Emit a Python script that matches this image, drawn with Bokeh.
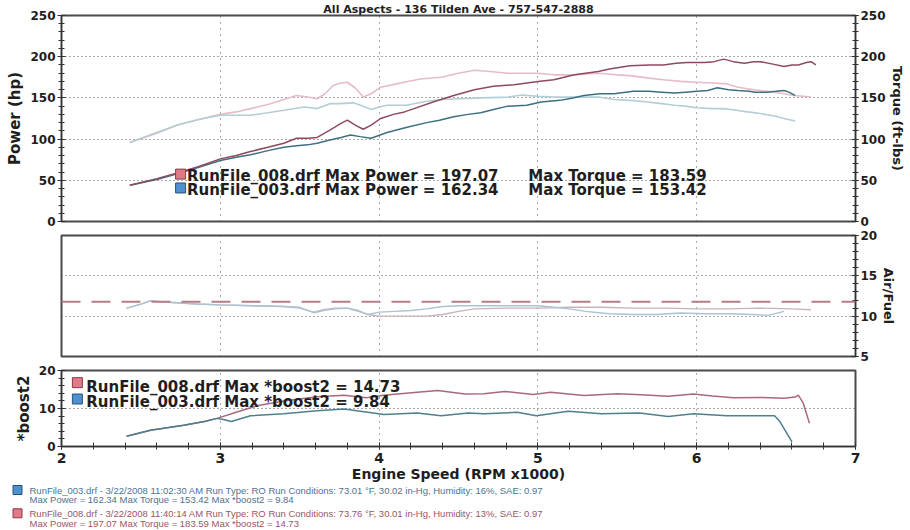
from bokeh.plotting import figure
from bokeh.models import Range1d, LinearAxis, SingleIntervalTicker, FixedTicker, Span, Title
from bokeh.layouts import column, row
from bokeh.embed import file_html
from bokeh.resources import INLINE
from bokeh.core.properties import value

# ---------------- data ----------------
title_text = "All Aspects - 136 Tilden Ave - 757-547-2888"
runs = ["RunFile_008.drf", "RunFile_003.drf"]
max_power = [197.07, 162.34]
max_torque = [183.59, 153.42]
max_boost = [14.73, 9.84]
run_dates = ["3/22/2008 11:40:14 AM", "3/22/2008 11:02:30 AM"]
run_temp = ["73.76", "73.01"]
run_baro = ["30.01", "30.02"]
run_hum = ["13%", "16%"]
run_sae = ["0.97", "0.97"]
af_target = 11.8

rpm_008 = [2.43, 2.60, 2.73, 2.87, 3.00, 3.10, 3.19, 3.30, 3.40, 3.48, 3.55, 3.61, 3.69, 3.76, 3.80, 3.85,
           3.90, 3.95, 4.01, 4.09, 4.16, 4.22, 4.34, 4.47, 4.60, 4.72, 4.85, 5.00, 5.10, 5.23, 5.30, 5.38,
           5.45, 5.58, 5.70, 5.79, 5.87, 5.94, 6.05, 6.11, 6.17, 6.23, 6.30, 6.36, 6.40, 6.48, 6.55, 6.60,
           6.64, 6.69, 6.72, 6.75]
hp_008 = [44, 52, 59, 67, 76, 80, 85, 90, 95, 101, 101, 102, 111, 119, 123, 117,
          112, 117, 125, 130, 133, 137, 145, 153, 160, 164, 166, 170, 172, 178, 180, 182,
          185, 189, 190, 190, 192, 193, 193, 194, 197.07, 194, 192, 194, 194, 191, 188, 190,
          190, 193, 194, 190]

rpm_tq008 = [2.43, 2.60, 2.73, 2.87, 3.00, 3.10, 3.19, 3.30, 3.40, 3.48, 3.55, 3.61, 3.66, 3.71, 3.76, 3.80,
             3.85, 3.90, 3.95, 4.01, 4.11, 4.18, 4.26, 4.39, 4.50, 4.60, 4.70, 4.81, 4.90, 5.00, 5.10, 5.23,
             5.30, 5.38, 5.44, 5.50, 5.58, 5.70, 5.79, 5.90, 6.00, 6.10, 6.19, 6.26, 6.32, 6.40, 6.49, 6.55,
             6.61, 6.67, 6.72]
tq_008 = [96, 107, 117, 124, 130, 133, 137, 142, 148, 153, 151, 149, 155, 165, 168, 169,
          162, 151, 155, 163, 167, 170, 173, 175, 180, 183.59, 182, 180, 180, 180, 178, 178,
          179, 180, 179, 178, 177, 174, 172, 170, 169, 168, 167, 163, 161, 159, 157, 155,
          153, 152, 151]

rpm_003 = [2.43, 2.60, 2.73, 2.87, 3.00, 3.10, 3.19, 3.30, 3.40, 3.48, 3.55, 3.61, 3.69, 3.76, 3.82, 3.88,
           3.95, 4.05, 4.17, 4.30, 4.38, 4.47, 4.56, 4.64, 4.72, 4.81, 4.93, 5.02, 5.14, 5.22, 5.29, 5.39,
           5.48, 5.60, 5.70, 5.78, 5.86, 5.93, 6.00, 6.07, 6.13, 6.20, 6.26, 6.33, 6.37, 6.44, 6.50, 6.55,
           6.58, 6.62]
hp_003 = [44, 51, 58, 66, 74, 78, 81, 86, 90, 92, 93, 95, 99, 102, 105, 103,
          101, 108, 114, 120, 123, 127, 130, 132, 136, 140, 141, 145, 147, 150, 153, 155,
          155, 158, 158, 157, 156, 157, 158, 159, 162.34, 160, 159, 158, 157, 157, 158, 159,
          157, 153]

rpm_tq003 = [2.43, 2.60, 2.73, 2.87, 3.00, 3.10, 3.19, 3.30, 3.40, 3.53, 3.61, 3.69, 3.75, 3.84, 3.90, 3.95,
             4.00, 4.05, 4.17, 4.30, 4.40, 4.51, 4.65, 4.81, 4.90, 5.00, 5.10, 5.23, 5.38, 5.48, 5.58, 5.69,
             5.78, 5.86, 5.93, 6.00, 6.10, 6.17, 6.25, 6.32, 6.40, 6.49, 6.55, 6.62]
tq_003 = [96, 108, 117, 124, 129, 129, 129, 132, 135, 139, 137, 143, 143, 144, 140, 136,
          139, 141, 141, 146, 148, 149, 150, 151, 153.42, 152, 151, 151, 151, 148, 147, 145,
          143, 141, 140, 138, 137, 137, 135, 133, 131, 128, 125, 122]

af_rpm_008 = [2.41, 2.50, 2.56, 2.70, 2.85, 3.00, 3.20, 3.40, 3.50, 3.59, 3.65, 3.72, 3.80, 3.87, 3.93, 4.00,
              4.10, 4.20, 4.30, 4.40, 4.50, 4.60, 4.80, 5.00, 5.20, 5.40, 5.60, 5.80, 6.00, 6.20, 6.40, 6.60,
              6.72]
af_008 = [11.0, 11.5, 11.9, 11.7, 11.5, 11.4, 11.3, 11.2, 11.0, 10.5, 10.8, 11.0, 11.0, 10.6, 10.2, 10.0,
          10.0, 10.0, 10.0, 10.2, 10.6, 10.9, 11.0, 11.0, 11.1, 11.1, 11.0, 11.0, 10.9, 10.9, 11.0, 10.9,
          10.8]
af_rpm_003 = [2.41, 2.50, 2.56, 2.70, 2.85, 3.00, 3.20, 3.40, 3.50, 3.59, 3.65, 3.72, 3.80, 3.87, 3.93, 4.00,
              4.10, 4.20, 4.30, 4.40, 4.50, 4.60, 4.80, 5.00, 5.10, 5.20, 5.30, 5.45, 5.60, 5.75, 5.90, 6.05,
              6.20, 6.35, 6.45, 6.55]
af_003 = [11.0, 11.5, 11.9, 11.7, 11.5, 11.4, 11.3, 11.2, 11.1, 10.4, 10.7, 10.9, 11.0, 10.7, 10.2, 10.5,
          10.6, 10.7, 10.9, 11.2, 11.3, 11.3, 11.3, 11.3, 11.1, 10.9, 10.6, 10.3, 10.2, 10.2, 10.4, 10.3,
          10.3, 10.2, 10.1, 10.6]

b_rpm_008 = [2.41, 2.56, 2.77, 2.90, 2.98, 3.10, 3.23, 3.40, 3.61, 3.78, 3.92, 4.03, 4.24, 4.37, 4.54, 4.66,
             4.79, 4.97, 5.08, 5.29, 5.50, 5.65, 5.82, 5.98, 6.10, 6.23, 6.40, 6.55, 6.62, 6.64, 6.67, 6.71]
b_008 = [2.7, 4.3, 5.6, 6.6, 7.4, 9.0, 10.7, 12.0, 13.1, 13.5, 12.8, 13.5, 14.3, 14.73, 13.8, 13.9,
         14.5, 13.7, 14.3, 13.4, 13.9, 13.6, 13.2, 13.8, 13.3, 12.8, 12.9, 12.7, 13.0, 13.5, 11.5, 6.1]
b_rpm_003 = [2.41, 2.56, 2.77, 2.90, 2.98, 3.02, 3.07, 3.19, 3.40, 3.61, 3.78, 3.86, 4.03, 4.24, 4.39, 4.56,
             4.66, 4.87, 4.99, 5.19, 5.40, 5.64, 5.82, 5.98, 6.19, 6.35, 6.49, 6.52, 6.60]
b_003 = [2.7, 4.3, 5.6, 6.6, 7.4, 7.1, 6.6, 8.1, 8.6, 9.4, 9.84, 9.4, 8.4, 8.8, 8.1, 8.8,
         8.6, 9.0, 8.1, 9.3, 8.6, 8.8, 7.9, 8.6, 8.1, 8.1, 8.1, 6.8, 1.2]

# ---------------- styles ----------------
FONT = "DejaVu Sans"
W = 909
ML, MR = 61, 54
RED_P, BLUE_P = "#8e4a5d", "#3e6f80"
RED_T, BLUE_T = "#e6bcc6", "#b2ced6"
RED_AF, BLUE_AF = "#c9b3bb", "#a9c4d2"
RED_B, BLUE_B = "#a8697a", "#4f7f8f"
ICON_R, ICON_RL = "#e07a88", "#8a3a48"
ICON_B, ICON_BL = "#4f90cf", "#27527e"
TXT = "#1e1e1e"


def make_fig(h, y0, y1, top, bottom, grid_ticks):
    p = figure(width=W, height=h, x_range=Range1d(2, 7), y_range=Range1d(y0, y1),
               x_axis_location=None, y_axis_location=None, toolbar_location=None,
               output_backend="svg", min_border_left=ML, min_border_right=MR,
               min_border_top=top, min_border_bottom=bottom)
    p.outline_line_color = "#4a4a4a"
    p.outline_line_width = 2
    p.background_fill_color = "white"
    p.border_fill_color = "white"
    p.xgrid.ticker = FixedTicker(ticks=[3, 4, 5, 6])
    p.xgrid.grid_line_color = "#505050"
    p.xgrid.grid_line_dash = "1 5"
    p.ygrid.ticker = FixedTicker(ticks=grid_ticks)
    p.ygrid.grid_line_color = "#505050"
    p.ygrid.grid_line_dash = "1 3"
    return p


def style_axis(ax, label_size="12px", title_size="15px"):
    ax.major_label_text_font = FONT
    ax.major_label_text_font_style = "bold"
    ax.major_label_text_font_size = label_size
    ax.major_label_text_color = TXT
    ax.axis_label_text_font = FONT
    ax.axis_label_text_font_style = "bold"
    ax.axis_label_text_font_size = title_size
    ax.axis_label_text_color = TXT
    ax.axis_line_color = "#333333"
    ax.major_tick_line_color = "#333333"
    ax.minor_tick_line_color = "#333333"
    ax.major_tick_in = 4
    ax.major_tick_out = 4
    ax.minor_tick_in = 3
    ax.minor_tick_out = 3
    ax.major_label_standoff = 2
    ax.axis_label_standoff = 3


# ---------------- top: power / torque ----------------
p1 = make_fig(228, 0, 250, 14, 7, [50, 100, 150, 200])
p1.title = Title(text=title_text, align="center", text_font=FONT, text_font_style="bold",
                 text_font_size="11px", text_color=TXT)
if "standoff" in Title.properties():
    p1.title.standoff = 0
ax_l = LinearAxis(ticker=SingleIntervalTicker(interval=50, num_minor_ticks=5), axis_label="Power (hp)")
ax_r = LinearAxis(ticker=SingleIntervalTicker(interval=50, num_minor_ticks=5), axis_label="Torque (ft-lbs)")
style_axis(ax_l)
style_axis(ax_r, title_size="13px")
ax_r.major_tick_out = 3
ax_r.axis_label_standoff = 1
p1.add_layout(ax_l, "left")
p1.add_layout(ax_r, "right")

p1.line(rpm_tq008, tq_008, line_color=RED_T, line_width=1.6)
p1.line(rpm_tq003, tq_003, line_color=BLUE_T, line_width=1.6)
p1.line(rpm_003, hp_003, line_color=BLUE_P, line_width=1.5)
p1.line(rpm_008, hp_008, line_color=RED_P, line_width=1.5)

leg1_y = [55, 38.3]
p1.scatter([2.75, 2.75], [57.5, 40.7], marker="square", size=10,
           fill_color=[ICON_R, ICON_B], line_color=[ICON_RL, ICON_BL], line_width=1)
p1.text([2.79, 2.79], leg1_y,
        text=[f"{r} Max Power = {v:.2f}" for r, v in zip(runs, max_power)],
        text_font=value(FONT), text_font_style="bold", text_font_size="15px",
        text_baseline="middle", text_color=TXT)
p1.text([4.94, 4.94], leg1_y,
        text=[f"Max Torque = {v:.2f}" for v in max_torque],
        text_font=value(FONT), text_font_style="bold", text_font_size="15px",
        text_baseline="middle", text_color=TXT)

# ---------------- middle: air / fuel ----------------
p2 = make_fig(135, 5, 20, 7, 7, [10, 15])
ax_af = LinearAxis(ticker=SingleIntervalTicker(interval=5, num_minor_ticks=5), axis_label="Air/Fuel")
style_axis(ax_af, title_size="13px")
ax_af.major_tick_out = 3
ax_af.axis_label_standoff = 1
p2.add_layout(ax_af, "right")
p2.add_layout(Span(location=af_target, dimension="width", line_color="#b57e88",
                   line_dash="19 11", line_width=2))
p2.line(af_rpm_008, af_008, line_color=RED_AF, line_width=1.4)
p2.line(af_rpm_003, af_003, line_color=BLUE_AF, line_width=1.4)

# ---------------- bottom: boost ----------------
p3 = make_fig(121, 0, 20, 7, 37, [10])
ax_b = LinearAxis(ticker=SingleIntervalTicker(interval=10, num_minor_ticks=5), axis_label="*boost2")
style_axis(ax_b)
p3.add_layout(ax_b, "left")
ax_x = LinearAxis(ticker=SingleIntervalTicker(interval=1, num_minor_ticks=5),
                  axis_label="Engine Speed (RPM x1000)")
style_axis(ax_x, label_size="14px", title_size="14px")
ax_x.major_tick_in = 4
ax_x.major_tick_out = 3
ax_x.minor_tick_in = 4
ax_x.minor_tick_out = 3
ax_x.major_label_standoff = 3
ax_x.axis_label_standoff = 0
p3.add_layout(ax_x, "below")

p3.line(b_rpm_008, b_008, line_color=RED_B, line_width=1.5)
p3.line(b_rpm_003, b_003, line_color=BLUE_B, line_width=1.5)

p3.scatter([2.10, 2.10], [16.8, 12.5], marker="square", size=10,
           fill_color=[ICON_R, ICON_B], line_color=[ICON_RL, ICON_BL], line_width=1)
p3.text([2.156, 2.156], [15.6, 11.7],
        text=[f"{r} Max *boost2 = {v:.2f}" for r, v in zip(runs, max_boost)],
        text_font=value(FONT), text_font_style="bold", text_font_size="15px",
        text_baseline="middle", text_color=TXT)

# ---------------- run info strip (003 first, then 008) ----------------
H4 = 45
p4 = figure(width=W, height=H4, x_range=Range1d(0, W), y_range=Range1d(H4, 0),
            x_axis_location=None, y_axis_location=None, toolbar_location=None,
            output_backend="svg", min_border_left=0, min_border_right=0,
            min_border_top=0, min_border_bottom=0)
p4.outline_line_color = None
p4.grid.visible = False
p4.background_fill_color = "white"
p4.border_fill_color = "white"

order = [1, 0]
info_cols = ["#4d7390", "#9c5565"]
icon_fill = [ICON_B, ICON_R]
icon_line = [ICON_BL, ICON_RL]
row_y = [(5.5, 15.2), (28.8, 38.5)]
lines, tx, ty, tc = [], [], [], []
for k, i in enumerate(order):
    l1 = (f"{runs[i]} - {run_dates[i]}  Run Type: RO  Run Conditions: {run_temp[i]} \u00b0F, "
          f"{run_baro[i]} in-Hg,  Humidity:  {run_hum[i]}, SAE: {run_sae[i]}")
    l2 = f"Max Power = {max_power[i]:.2f}  Max Torque = {max_torque[i]:.2f}  Max *boost2 = {max_boost[i]:.2f}"
    tx += [29, 29]
    ty += [row_y[k][0], row_y[k][1]]
    lines += [l1, l2]
    tc += [info_cols[k], info_cols[k]]
p4.rect([17, 17], [row_y[0][0], row_y[1][0]], width=9, height=9,
        fill_color=icon_fill, line_color=icon_line, line_width=1)
p4.text(tx, ty, text=lines, text_font=value("Liberation Sans"), text_font_size="9.5px",
        text_baseline="middle", text_color=tc)

layout = column(p1, p2, p3, row(p4), spacing=0)
open("out.html", "w").write(file_html(layout, INLINE))
